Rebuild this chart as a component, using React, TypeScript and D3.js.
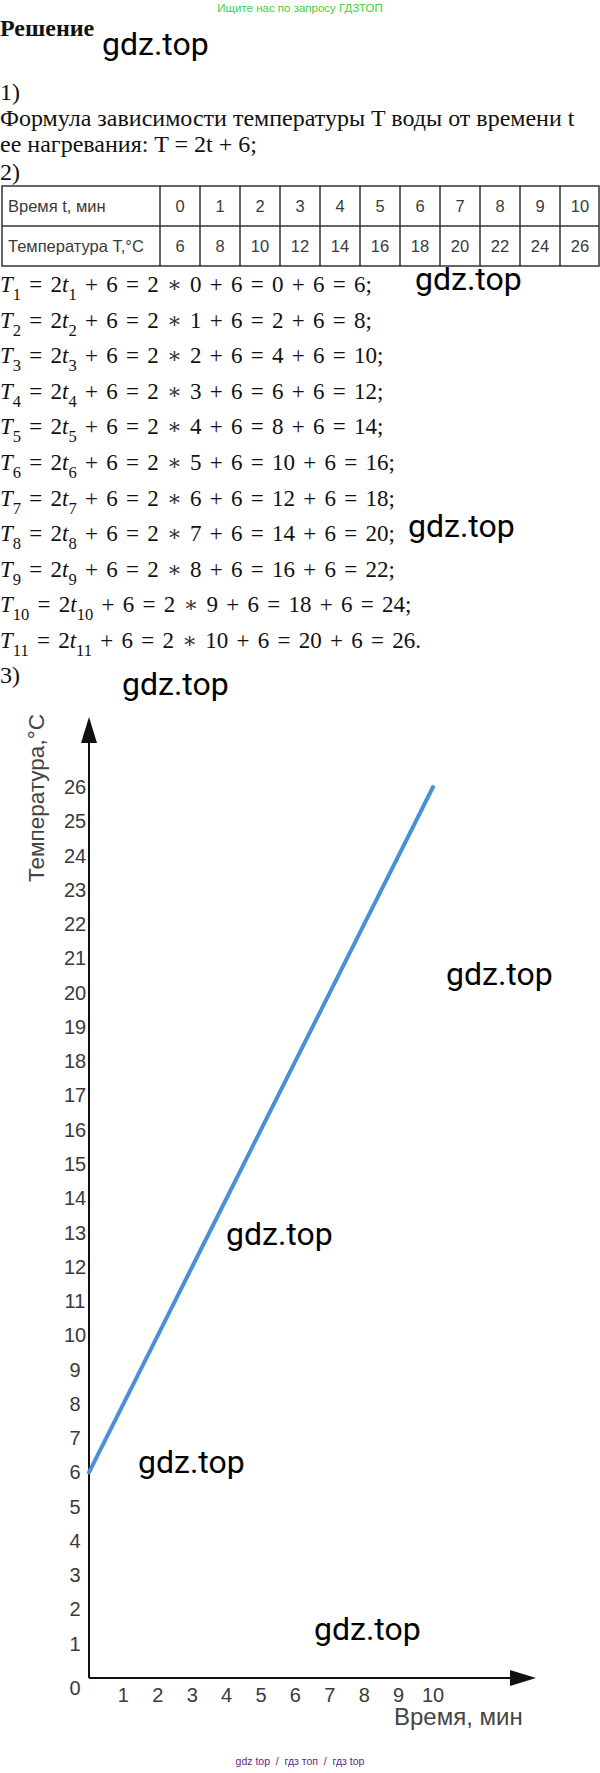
import React from "react";
import * as d3 from "d3";

// ---- data ----
const timeMin = [0, 1, 2, 3, 4, 5, 6, 7, 8, 9, 10];
const tempC = [6, 8, 10, 12, 14, 16, 18, 20, 22, 24, 26];
const products = [0, 2, 4, 6, 8, 10, 12, 14, 16, 18, 20];
const yTickLabels = [1, 2, 3, 4, 5, 6, 7, 8, 9, 10, 11, 12, 13, 14, 15, 16, 17, 18, 19, 20, 21, 22, 23, 24, 25, 26];
const xTickLabels = [1, 2, 3, 4, 5, 6, 7, 8, 9, 10];
const rowLabels = ["Время t, мин", "Температура Т,°C"];

const W = 600;
const H = 1773;
const SERIF = "'Liberation Serif', 'Times New Roman', serif";
const SANS = "'Liberation Sans', Arial, sans-serif";
const WM = "Roboto, 'Liberation Sans', Arial, sans-serif";

const Watermark = ({ x, y }: { x: number; y: number }) => (
  <text x={x} y={y} fontFamily={WM} fontSize={32} fill="#000">gdz.top</text>
);

export default function App() {
  // chart scales
  const x = d3.scaleLinear().domain([0, 10]).range([89, 433]);
  const y = d3.scaleLinear().domain([0, 26]).range([1678, 787]);
  const yAxisTop = 717;
  const xAxisRight = 536;
  const line = d3
    .line<number>()
    .x((_, i) => x(timeMin[i]))
    .y((d) => y(d));

  // table scales
  const col = d3.scaleBand<number>().domain(timeMin).range([160, 600]);
  const rowY = d3.scaleBand<number>().domain([0, 1]).range([186, 266]);

  const fSize = 23;
  const formulaY = d3.scaleLinear().domain([0, 10]).range([292, 648]);

  return (
    <svg
      width={W}
      height={H}
      viewBox={`0 0 ${W} ${H}`}
      style={{ position: "absolute", left: 0, top: 0, background: "#fff" }}
    >
      <rect x={0} y={0} width={W} height={H} fill="#fff" />
      {/* header */}
      <text x={300} y={12} textAnchor="middle" fontFamily={SANS} fontSize={11.5} fill="#3fcf3f">
        Ищите нас по запросу ГДЗТОП
      </text>
      <text x={0} y={36} fontFamily={SERIF} fontSize={24} fontWeight="bold" fill="#111">
        Решение
      </text>
      <Watermark x={102} y={55} />

      <text x={0} y={100} fontFamily={SERIF} fontSize={24} fill="#111">1)</text>
      <text x={0} y={126} fontFamily={SERIF} fontSize={24} fill="#111">
        Формула зависимости температуры T воды от времени t
      </text>
      <text x={0} y={152} fontFamily={SERIF} fontSize={24} fill="#111">
        ее нагревания: T = 2t + 6;
      </text>
      <text x={0} y={180} fontFamily={SERIF} fontSize={24} fill="#111">2)</text>

      {/* table */}
      <g stroke="#333" strokeWidth={1.5} fill="none">
        <rect x={2} y={186} width={597} height={80} />
        <line x1={2} x2={599} y1={226} y2={226} />
        {timeMin.map((t) => (
          <line key={t} x1={col(t)!} x2={col(t)!} y1={186} y2={266} />
        ))}
      </g>
      {rowLabels.map((lab, r) => (
        <text
          key={lab}
          x={8}
          y={rowY(r)! + rowY.bandwidth() / 2 + 6}
          fontFamily={SANS}
          fontSize={16.5}
          fill="#3a3a3a"
        >
          {lab}
        </text>
      ))}
      {timeMin.map((t, i) => (
        <g key={"c" + t} fontFamily={SANS} fontSize={16.5} fill="#3a3a3a" textAnchor="middle">
          <text x={col(t)! + col.bandwidth() / 2} y={rowY(0)! + rowY.bandwidth() / 2 + 6}>{t}</text>
          <text x={col(t)! + col.bandwidth() / 2} y={rowY(1)! + rowY.bandwidth() / 2 + 6}>{tempC[i]}</text>
        </g>
      ))}

      {/* formulas */}
      {timeMin.map((t, i) => (
        <text
          key={"f" + i}
          x={0}
          y={formulaY(i)}
          fontFamily={SERIF}
          fontSize={fSize}
          fill="#111"
          style={{ whiteSpace: "pre", wordSpacing: "2.5px" }}
        >
          <tspan fontStyle="italic">T</tspan>
          <tspan fontSize={fSize * 0.72} dy={8}>{i + 1}</tspan>
          <tspan dy={-8}>{" = 2"}</tspan>
          <tspan fontStyle="italic">t</tspan>
          <tspan fontSize={fSize * 0.72} dy={8}>{i + 1}</tspan>
          <tspan dy={-8}>{" + 6 = 2 "}</tspan>
          <tspan fontSize={fSize * 0.95} fontFamily="'DejaVu Serif', serif" fontWeight="normal" fill="#333">{"∗"}</tspan>
          <tspan>{` ${t} + 6 = ${products[i]} + 6 = ${tempC[i]}${i === 10 ? "." : ";"}`}</tspan>
        </text>
      ))}
      <Watermark x={415} y={290} />
      <Watermark x={408} y={537} />

      <text x={0} y={683} fontFamily={SERIF} fontSize={24} fill="#111">3)</text>
      <Watermark x={122} y={695} />

      {/* chart */}
      <text
        transform={`translate(44, 798) rotate(-90)`}
        textAnchor="middle"
        fontFamily={SANS}
        fontSize={22.5}
        fill="#444"
      >
        Температура,°C
      </text>
      <g stroke="#111" strokeWidth={2}>
        <line x1={x(0)} x2={x(0)} y1={y(0)} y2={yAxisTop + 20} />
        <line x1={x(0)} x2={xAxisRight - 20} y1={y(0)} y2={y(0)} />
      </g>
      <polygon
        points={`${x(0)},${yAxisTop} ${x(0) - 8},${yAxisTop + 26} ${x(0) + 8},${yAxisTop + 26}`}
        fill="#111"
      />
      <polygon
        points={`${xAxisRight},${y(0)} ${xAxisRight - 26},${y(0) - 8} ${xAxisRight - 26},${y(0) + 8}`}
        fill="#111"
      />
      {yTickLabels.map((v) => (
        <text key={"y" + v} x={75} y={y(v) + 7} textAnchor="middle" fontFamily={SANS} fontSize={20} fill="#3a3a3a">
          {v}
        </text>
      ))}
      <text x={75} y={1695} textAnchor="middle" fontFamily={SANS} fontSize={20} fill="#3a3a3a">0</text>
      {xTickLabels.map((v) => (
        <text key={"x" + v} x={x(v)} y={1702} textAnchor="middle" fontFamily={SANS} fontSize={20} fill="#3a3a3a">
          {v}
        </text>
      ))}
      <text x={394} y={1725} fontFamily={SANS} fontSize={24} fill="#444">Время, мин</text>
      <path d={line(tempC) || ""} fill="none" stroke="#4a90d9" strokeWidth={4} strokeLinecap="round" />

      <Watermark x={446} y={985} />
      <Watermark x={226} y={1245} />
      <Watermark x={138} y={1473} />
      <Watermark x={314} y={1640} />

      <text x={300} y={1765} textAnchor="middle" fontFamily={SANS} fontSize={10.5} fill="#5b2a86" style={{ whiteSpace: "pre" }}>
        {"gdz top  /  гдз топ  /  гдз top"}
      </text>
    </svg>
  );
}
